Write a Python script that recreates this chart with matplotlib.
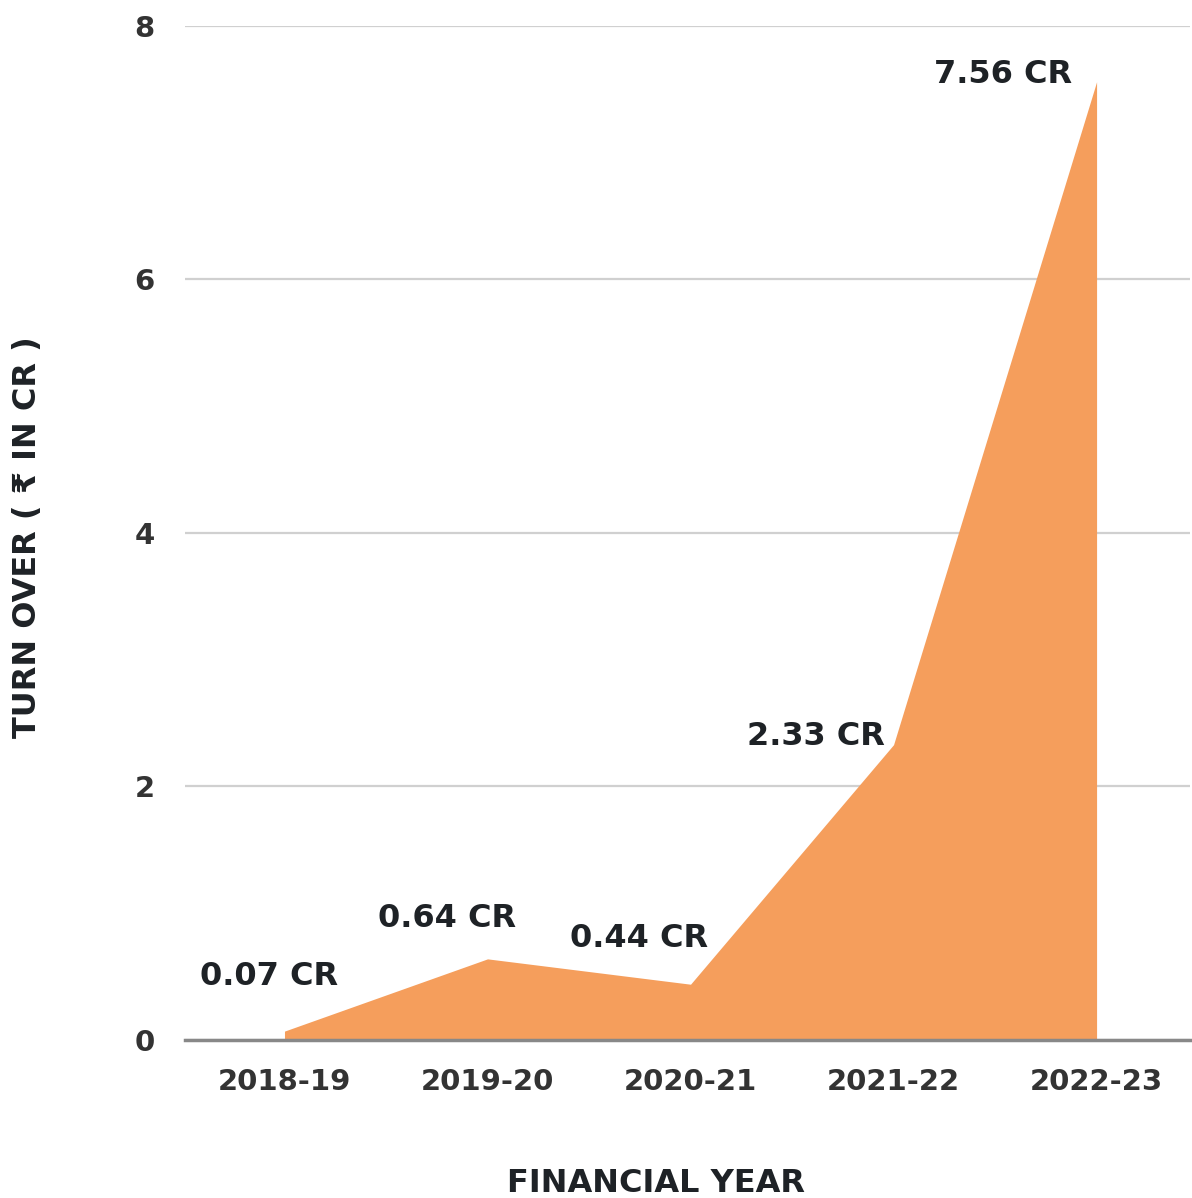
import matplotlib
matplotlib.use('Agg')
from matplotlib import pyplot as plt

# Turnover per financial year (in crore)
years = ['2018-19', '2019-20', '2020-21', '2021-22', '2022-23']
turnover = [0.07, 0.64, 0.44, 2.33, 7.56]
point_labels = ['0.07 CR', '0.64 CR', '0.44 CR', '2.33 CR', '7.56 CR']

# label offsets (points) relative to each data point
label_offsets = [(-11, 39), (-29, 29), (-37, 33), (-56, 6), (-67, 5)]

plt.rcParams['font.family'] = ['DejaVu Sans']

fig = plt.figure(figsize=(11.92, 11.98), dpi=100)
W, H = 1192, 1198
ax = fig.add_axes([0.1552, 0.1319, 0.8431, 0.8464])

x = list(range(len(years)))
ax.fill_between(x, turnover, 0, color='#F59E5C', linewidth=0, zorder=2)

# Data labels
for xi, yi, lab, off in zip(x, turnover, point_labels, label_offsets):
    ax.annotate(lab, (xi, yi), xytext=off, textcoords='offset points',
                ha='center', va='center', fontsize=23, fontweight='bold',
                color='#1e2226', zorder=4)

ax.set_xlim(-0.49, 4.46)
ax.set_ylim(0, 8)
ax.set_xticks(x)
ax.set_xticklabels(years)
ax.set_yticks([0, 2, 4, 6, 8])

ax.tick_params(axis='both', length=0, labelsize=21, labelcolor='#333333')
ax.tick_params(axis='x', pad=20)
ax.tick_params(axis='y', pad=22)
for lab in ax.get_xticklabels() + ax.get_yticklabels():
    lab.set_fontweight('bold')

# grid
ax.grid(axis='y', color='#d0d0d0', linewidth=1.6, zorder=0)
ax.set_axisbelow(True)
for side in ['top', 'right', 'left']:
    ax.spines[side].set_visible(False)
ax.spines['bottom'].set_color('#888888')
ax.spines['bottom'].set_linewidth(2.5)
ax.spines['bottom'].set_zorder(3)

# axis titles placed in figure pixels
fig.text(656 / W, 1 - 1183 / H, 'FINANCIAL YEAR', fontsize=23, fontweight='bold',
         color='#1e2226', ha='center', va='center')
fig.text(28 / W, 1 - 537 / H, 'TURN OVER ( \u20b9 IN CR )', fontsize=23, fontweight='bold',
         color='#1e2226', ha='center', va='center', rotation=90)

fig.savefig('out.png', dpi=100)
